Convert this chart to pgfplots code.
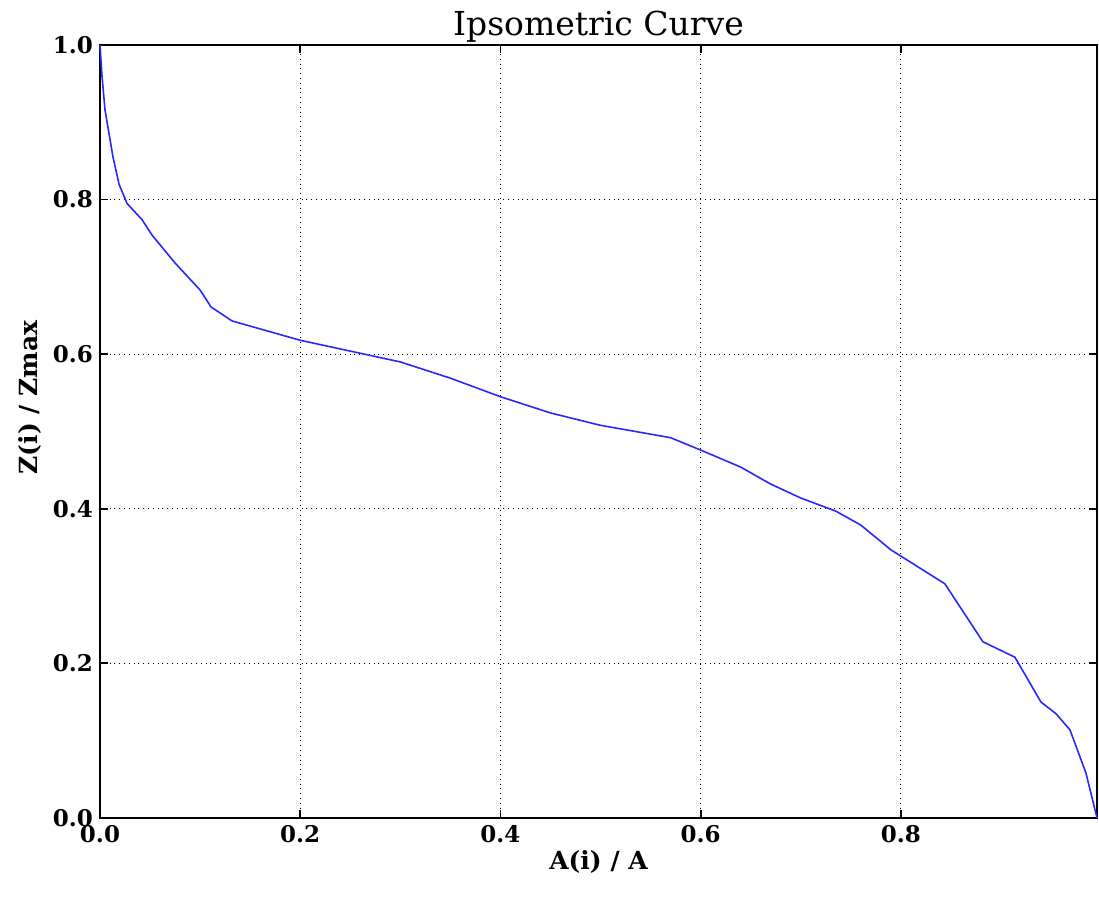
\documentclass[border=0pt]{standalone}
\usepackage{pgfplots}
\pgfplotsset{compat=1.18}
\usepackage{fontspec}
\setmainfont{DejaVu Serif}
\usetikzlibrary{calc}

\begin{document}
\begin{tikzpicture}
  \begin{axis}[
    scale only axis,
    width=498.5pt, height=386.5pt,
    xmin=0, xmax=0.996, ymin=0, ymax=1,
    xtick={0,0.2,0.4,0.6,0.8},
    ytick={0,0.2,0.4,0.6,0.8,1.0},
    /pgf/number format/assume math mode=true,
    xticklabel style={/pgf/number format/.cd,fixed,fixed zerofill,precision=1},
    yticklabel style={/pgf/number format/.cd,fixed,fixed zerofill,precision=1},
    tick label style={font=\bfseries\fontsize{11.5}{13}\selectfont, black},
    tick align=inside, tick pos=both,
    major tick length=4pt,
    every tick/.style={black, line width=0.9pt},
    axis line style={black, line width=0.9pt},
    grid=major,
    major grid style={black, dotted, line width=0.6pt},
    title={Ipsometric Curve},
    title style={font=\fontsize{16.5}{18}\selectfont, yshift=-8pt},
    xlabel={A(i) / A},
    ylabel={Z(i) / Zmax},
    label style={font=\bfseries\fontsize{12.5}{14}\selectfont},
    xlabel style={yshift=3pt},
    ylabel style={at={(ticklabel cs:0.544)}, yshift=-1pt},
    clip=false,
  ]
    \addplot[color={rgb,255:red,40;green,40;blue,255}, line width=0.8pt] coordinates {
      (0.000,1.000) (0.002,0.960) (0.005,0.916) (0.013,0.855) (0.019,0.820)
      (0.027,0.795) (0.042,0.774) (0.052,0.754) (0.075,0.718) (0.100,0.683)
      (0.111,0.661) (0.132,0.643) (0.200,0.618) (0.300,0.590) (0.350,0.569)
      (0.400,0.545) (0.450,0.524) (0.500,0.508) (0.570,0.492) (0.600,0.476)
      (0.640,0.454) (0.670,0.432) (0.700,0.414) (0.735,0.397) (0.760,0.379)
      (0.790,0.347) (0.844,0.303) (0.882,0.228) (0.914,0.208) (0.940,0.150)
      (0.955,0.135) (0.969,0.114) (0.985,0.058) (0.996,0.000)
    };
  \end{axis}
  \pgfresetboundingbox
  \path ($(current axis.south west)+(-50pt,-44pt)$) rectangle ($(current axis.north east)+(1pt,22.5pt)$);
\end{tikzpicture}
\end{document}
